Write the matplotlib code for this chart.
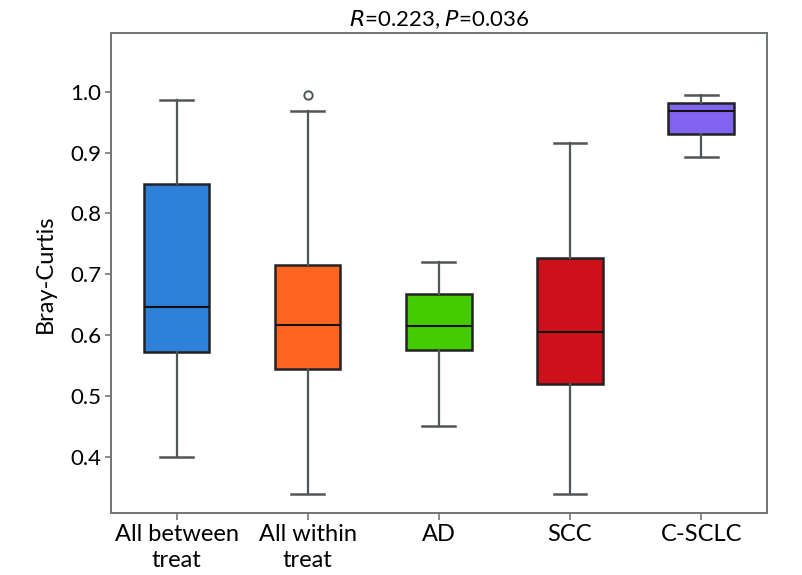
import matplotlib
matplotlib.use('Agg')
import matplotlib.pyplot as plt

plt.rcParams['font.family'] = ['Lato', 'DejaVu Sans']

groups = ['All between\ntreat', 'All within\ntreat', 'AD', 'SCC', 'C-SCLC']
whisker_low = [0.400, 0.339, 0.450, 0.339, 0.893]
q1 = [0.572, 0.545, 0.575, 0.520, 0.930]
medians = [0.646, 0.616, 0.615, 0.605, 0.968]
q3 = [0.848, 0.715, 0.667, 0.727, 0.982]
whisker_high = [0.986, 0.969, 0.720, 0.915, 0.995]
outliers = [[], [0.995], [], [], []]
colors = ['#2f80d8', '#ff6520', '#44cc00', '#cc111a', '#8165f2']

stats = []
for i, name in enumerate(groups):
    stats.append(dict(label=name, whislo=whisker_low[i], q1=q1[i], med=medians[i],
                      q3=q3[i], whishi=whisker_high[i], fliers=outliers[i]))

fig = plt.figure(figsize=(8.02, 5.75), dpi=100)
ax = fig.add_axes([0.1384, 0.1073, 0.8176, 0.8347])

bp = ax.bxp(stats, positions=range(1, 6), widths=0.5, patch_artist=True,
            boxprops=dict(edgecolor='#222222', linewidth=1.8),
            medianprops=dict(color='#111111', linewidth=1.5),
            whiskerprops=dict(color='#505558', linewidth=1.6),
            capprops=dict(color='#505558', linewidth=1.8),
            capwidths=0.25,
            flierprops=dict(marker='o', markerfacecolor='white', markeredgecolor='#505558',
                            markersize=6, markeredgewidth=1.4))
for patch, c in zip(bp['boxes'], colors):
    patch.set_facecolor(c)

ax.set_xlim(0.5, 5.5)
ax.set_ylim(0.307, 1.096)
ax.set_yticks([0.4, 0.5, 0.6, 0.7, 0.8, 0.9, 1.0])
ax.set_yticklabels(['0.4', '0.5', '0.6', '0.7', '0.8', '0.9', '1.0'])
ax.tick_params(axis='y', labelsize=16, length=4, width=1.2, color='#777777', pad=3)
ax.tick_params(axis='x', labelsize=17, length=5, width=1.2, color='#777777', pad=3)
for lbl in ax.get_xticklabels():
    lbl.set_linespacing(1.25)
for s in ax.spines.values():
    s.set_color('#6f7477')
    s.set_linewidth(1.4)

ax.set_ylabel('Bray-Curtis', fontsize=17, labelpad=10)
ax.set_title(r'$\it{R}$=0.223, $\it{P}$=0.036', fontsize=16, pad=5)

fig.savefig('out.png', dpi=100)
